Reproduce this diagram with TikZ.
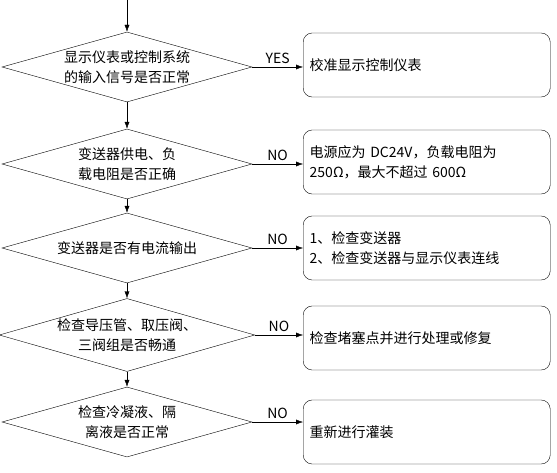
\documentclass[tikz,border=0pt]{standalone}
\usepackage{fontspec}
\setmainfont{Noto Sans CJK SC}
\usetikzlibrary{shapes.geometric,arrows.meta}
\begin{document}
\begin{tikzpicture}[x=1pt,y=-1pt,font=\fontsize{14}{20}\selectfont,
 dia/.style={draw,diamond,aspect=3.5,minimum width=250pt,minimum height=70pt,inner sep=0pt,align=center},
 box/.style={draw,rounded corners=9pt,minimum width=247pt,minimum height=64pt,anchor=west,align=left,text width=234pt},
 arr/.style={-{Latex[length=7pt,width=5pt]}},
 lab/.style={above,font=\fontsize{14}{16}\selectfont}]
\useasboundingbox (0,0) rectangle (557,473);
\coordinate (s) at (127,0);
\node[dia] (d1) at (127,67) {显示仪表或控制系统\\的输入信号是否正常};
\node[dia] (d2) at (127,164) {变送器供电、负\\载电阻是否正确};
\node[dia] (d3) at (127,248) {变送器是否有电流输出};
\node[dia] (d4) at (127,335) {检查导压管、取压阀、\\三阀组是否畅通};
\node[dia] (d5) at (127,422) {检查冷凝液、隔\\离液是否正常};
\node[box] (b1) at (303,65) {校准显示控制仪表};
\node[box] (b2) at (303,162) {电源应为 DC24V，负载电阻为\\250Ω，最大不超过 600Ω};
\node[box] (b3) at (303,248) {1、检查变送器\\2、检查变送器与显示仪表连线};
\node[box] (b4) at (303,338) {检查堵塞点并进行处理或修复};
\node[box] (b5) at (303,432) {重新进行灌装};
\draw[arr] (s) -- (d1);
\draw[arr] (d1) -- (d2);
\draw[arr] (d2) -- (d3);
\draw[arr] (d3) -- (d4);
\draw[arr] (d4) -- (d5);
\draw[arr] (d1.east) -- node[lab]{YES} (d1.east -| b1.west);
\draw[arr] (d2.east) -- node[lab]{NO} (d2.east -| b2.west);
\draw[arr] (d3.east) -- node[lab]{NO} (d3.east -| b3.west);
\draw[arr] (d4.east) -- node[lab]{NO} (d4.east -| b4.west);
\draw[arr] (d5.east) -- node[lab]{NO} (d5.east -| b5.west);
\end{tikzpicture}
\end{document}
